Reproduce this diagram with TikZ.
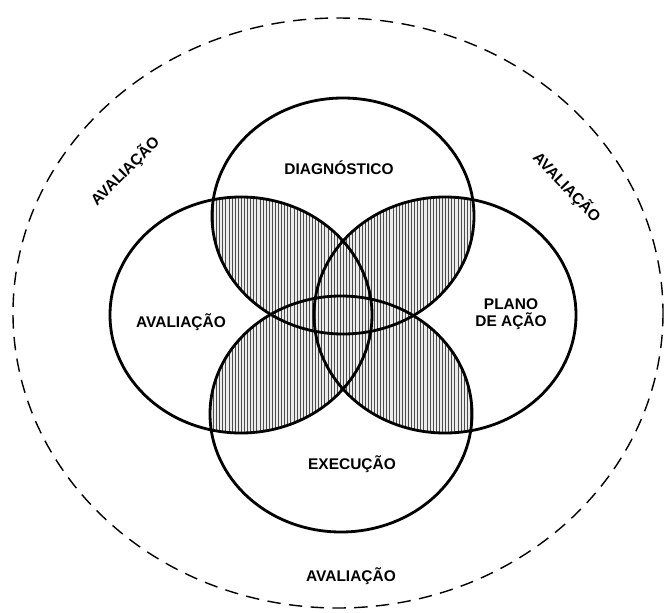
\documentclass[tikz,border=0pt]{standalone}
\usepackage{fontspec}
\setmainfont{Liberation Sans}
\usepackage{tikz}
\usetikzlibrary{patterns.meta}

\begin{document}
\begin{tikzpicture}[
    x=0.025cm, y=-0.025cm,
    ring/.style={draw=black, line width=2pt},
    outer/.style={draw=black, line width=1pt, dash pattern=on 9.5pt off 6pt},
    hatch/.style={fill=gray!15, postaction={pattern={Lines[angle=90, distance=2.2pt, line width=0.5pt]}, pattern color=black!70}},
    label/.style={font=\fontsize{11}{12.5}\selectfont\bfseries, align=center, inner sep=1pt}
]
\useasboundingbox (0,0) rectangle (664,612);

% Overlaps of every pair of rings
\foreach \ax/\ay/\bx/\by in {343/216/241/315, 343/216/445/315, 341/414/241/315, 341/414/445/315, 343/216/341/414, 241/315/445/315} {
    \begin{scope}
        \clip (\ax,\ay) ellipse [x radius=131, y radius=118];
        \path[hatch] (\bx,\by) ellipse [x radius=131, y radius=118];
    \end{scope}
}

% Rings
\draw[ring] (343,216) ellipse [x radius=131, y radius=118];
\draw[ring] (241,315) ellipse [x radius=131, y radius=118];
\draw[ring] (445,315) ellipse [x radius=131, y radius=118];
\draw[ring] (341,414) ellipse [x radius=131, y radius=118];

% Outer dashed boundary
\draw[outer] (338,313) ellipse [x radius=325, y radius=295];

% Labels
\node[label] (diag) at (339,168) {DIAGNÓSTICO};
\node[label] (aval) at (181,322) {AVALIAÇÃO};
\node[label] (plano) at (511,314) {PLANO\\DE AÇÃO};
\node[label] (exec) at (352,464) {EXECUÇÃO};
\node[label] (avalb) at (351,576) {AVALIAÇÃO};
\node[label, rotate=45] (avaltl) at (125,171) {AVALIAÇÃO};
\node[label, rotate=-46] (avaltr) at (567,187) {AVALIAÇÃO};
\end{tikzpicture}
\end{document}
